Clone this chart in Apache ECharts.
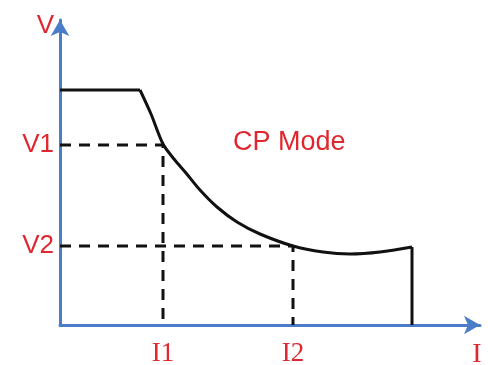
<!DOCTYPE html>
<html>
<head>
<meta charset="utf-8">
<script src="https://cdn.jsdelivr.net/npm/echarts@6/dist/echarts.min.js"></script>
<style>
  html, body { margin: 0; padding: 0; background: #fff; }
  #main { width: 488px; height: 365px; }
</style>
</head>
<body>
<div id="main"></div>
<script>
// constant power curve, x = current, y = voltage (arbitrary units)
var flatPart = [[0, 235], [80, 235]];
var cpCurve = [[80, 235], [91, 211], [103, 181], [114, 166], [126, 152], [140, 135], [157, 118],
  [177, 103], [200, 91], [233, 79], [263, 73], [290, 71], [320, 73], [352, 78]];
var dropPart = [[352, 78], [352, 0]];
var v1Guide = [[0, 180], [103, 180], [103, 0]];
var v2Guide = [[0, 79], [233, 79], [233, 0]];
var yTicks = [180, 79];
var yTickNames = ['V1', 'V2'];
var xTicks = [103, 233];
var xTickNames = ['I1', 'I2'];

var red = '#e0262e';
var blue = '#4a7cc9';

var myChart = echarts.init(document.getElementById('main'));

function lineSeries(data, dashed, smooth) {
  return {
    type: 'line',
    data: data,
    smooth: smooth || false,
    symbol: 'none',
    silent: true,
    lineStyle: {
      color: '#111',
      width: 3,
      type: dashed ? [11, 8] : 'solid'
    },
    z: dashed ? 2 : 3
  };
}

var option = {
  animation: false,
  title: {
    text: 'CP Mode',
    left: 228,
    top: 124,
    textStyle: {
      color: red,
      fontSize: 27,
      fontWeight: 'normal',
      fontFamily: 'Liberation Sans, Arial'
    }
  },
  grid: {
    left: 60,
    right: 8,
    top: 20,
    bottom: 40,
    outerBoundsMode: 'none'
  },
  xAxis: {
    type: 'value',
    min: 0,
    max: 420,
    name: 'I',
    nameLocation: 'end',
    nameGap: -3,
    nameTextStyle: {
      color: red,
      fontSize: 28,
      fontFamily: 'Liberation Serif, serif',
      align: 'center',
      verticalAlign: 'top',
      padding: [16, 0, 0, 0]
    },
    axisLine: {
      lineStyle: { color: blue, width: 3 },
      symbol: ['none', 'arrow'],
      symbolSize: [14, 16]
    },
    axisTick: { show: false },
    splitLine: { show: false },
    axisLabel: {
      customValues: xTicks,
      formatter: function (v) { return xTickNames[xTicks.indexOf(v)]; },
      color: red,
      fontSize: 27,
      fontFamily: 'Liberation Serif, serif',
      margin: 15
    }
  },
  yAxis: {
    type: 'value',
    min: 0,
    max: 305,
    name: 'V',
    nameLocation: 'end',
    nameGap: -6,
    nameTextStyle: {
      color: red,
      fontSize: 26,
      fontFamily: 'Liberation Sans, Arial',
      align: 'right',
      verticalAlign: 'middle',
      padding: [0, 6, 0, 0]
    },
    axisLine: {
      lineStyle: { color: blue, width: 3 },
      symbol: ['none', 'arrow'],
      symbolSize: [14, 16]
    },
    axisTick: { show: false },
    splitLine: { show: false },
    axisLabel: {
      customValues: yTicks,
      formatter: function (v) { return yTickNames[yTicks.indexOf(v)]; },
      color: red,
      fontSize: 26,
      fontFamily: 'Liberation Sans, Arial',
      margin: 6
    }
  },
  series: [
    lineSeries(v1Guide, true),
    lineSeries(v2Guide, true),
    lineSeries(flatPart, false),
    lineSeries(cpCurve, false, 0.3),
    lineSeries(dropPart, false)
  ]
};

myChart.setOption(option);
</script>
</body>
</html>
